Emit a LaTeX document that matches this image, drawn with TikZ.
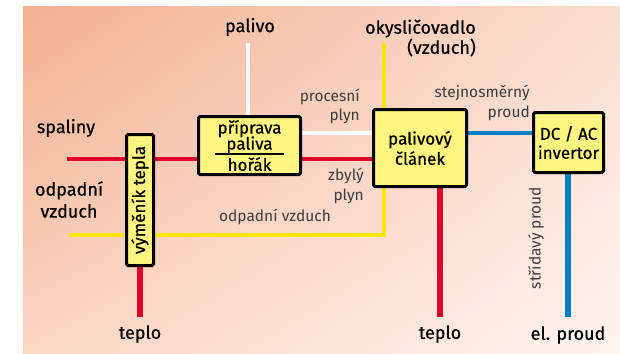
\documentclass[tikz,border=0pt]{standalone}
\usepackage{fontspec}
\setmainfont{Fira Sans}
\newfontfamily\medfont[FakeBold=0.6]{Fira Sans}
\usetikzlibrary{backgrounds,shadings}
\definecolor{bgA}{RGB}{243,176,146}
\definecolor{bgB}{RGB}{250,222,208}
\definecolor{bgC}{RGB}{250,214,196}
\definecolor{bgD}{RGB}{255,244,240}
\definecolor{cred}{RGB}{226,0,40}
\definecolor{cyel}{RGB}{250,230,0}
\definecolor{cblue}{RGB}{0,128,200}
\definecolor{boxfill}{RGB}{255,245,128}
\definecolor{labelgray}{RGB}{60,60,60}
\tikzset{
  box/.style={draw=black, line width=3pt, fill=boxfill, rounded corners=1.5pt, inner sep=0pt,
    font=\medfont\fontsize{17}{17}\selectfont, align=center},
  big/.style={font=\medfont\fontsize{18}{22}\selectfont, inner sep=0pt},
  small/.style={font=\fontsize{15.5}{19}\selectfont, text=labelgray, inner sep=0pt},
  redline/.style={draw=cred, line width=4pt},
  redthick/.style={draw=cred, line width=6.5pt},
  yelline/.style={draw=cyel, line width=4pt},
  whiteline/.style={draw=white, line width=4pt},
  blueline/.style={draw=cblue, line width=4pt},
  bluethick/.style={draw=cblue, line width=6.5pt},
}
\begin{document}
\begin{tikzpicture}[x=1pt,y=-1pt]
\useasboundingbox (0,0) rectangle (620,353);
\begin{scope}[on background layer]
\shade[upper left=bgA, upper right=bgB, lower left=bgC, lower right=bgD] (23,7) rectangle (620,353);
\end{scope}

% boxes
\node[box, minimum width=27pt, minimum height=131pt] (hx) at (140,200)
  {\rotatebox{90}{výměník tepla}};
\node[box, minimum width=102pt, minimum height=58pt] (prep) at (249.5,145.5)
  {příprava\\[-1pt]paliva\\[3pt]hořák};
\draw[line width=1.2pt] ([xshift=-34.5pt,yshift=-8.5pt]prep.center) -- ++(69,0);
\node[box, minimum width=93pt, minimum height=77pt] (fc) at (420,148)
  {palivový\\[2pt]článek};
\node[box, minimum width=70pt, minimum height=60pt] (inv) at (568.5,142.5)
  {DC / AC\\[2pt]invertor};

% free ends
\coordinate (sp) at (67,159);
\coordinate (oa) at (69,235);
\coordinate (pal) at (248,43);
\coordinate (ox) at (384,43);
\coordinate (yc) at (384,235);
\coordinate (t1) at (140,317);
\coordinate (t2) at (440,317);
\coordinate (ep) at (568,317);

% labels
\node[big] (lpal) at (250,27) {palivo};
\node[big, align=right, anchor=east, font=\medfont\fontsize{18}{18}\selectfont] (lox) at (476,38) {okysličovadlo\\(vzduch)};
\node[small, align=right, anchor=east] (lpg) at (360,106.5) {procesní\\plyn};
\node[small, align=right, anchor=east, font=\fontsize{15.5}{20}\selectfont] (lzp) at (364,186) {zbylý\\plyn};
\node[small, align=right, anchor=east, font=\fontsize{15.5}{20}\selectfont] (ldc) at (530,103) {stejnosměrný\\proud};
\node[small] (lov) at (275,217) {odpadní vzduch};
\node[big] (lsp) at (66,128) {spaliny};
\node[big, align=center] (loa) at (69,199.5) {odpadní\\vzduch};
\node[big] (lt1) at (140,334) {teplo};
\node[big] (lt2) at (440,334) {teplo};
\node[big] (lep) at (568,335) {el. proud};
\node[small, rotate=90] (lac) at (536,238) {střídavý proud};

\begin{scope}[on background layer]
  \draw[redline] (sp) -- (prep.west |- sp);
  \draw[redline] (prep.east |- sp) -- (fc.west |- sp);
  \draw[yelline] (oa) -- (yc) -- (yc |- fc.south);
  \draw[yelline] (ox) -- (ox |- fc.north);
  \draw[whiteline] (pal) -- (pal |- prep.north);
  \draw[whiteline] (prep.east |- 0,133) -- (fc.west |- 0,133);
  \draw[blueline] (fc.east |- 0,133) -- (inv.west |- 0,133);
  \draw[redthick] (hx.south) -- (t1);
  \draw[redthick] (t2 |- fc.south) -- (t2);
  \draw[bluethick] (inv.south -| ep) -- (ep);
\end{scope}
\end{tikzpicture}
\end{document}
